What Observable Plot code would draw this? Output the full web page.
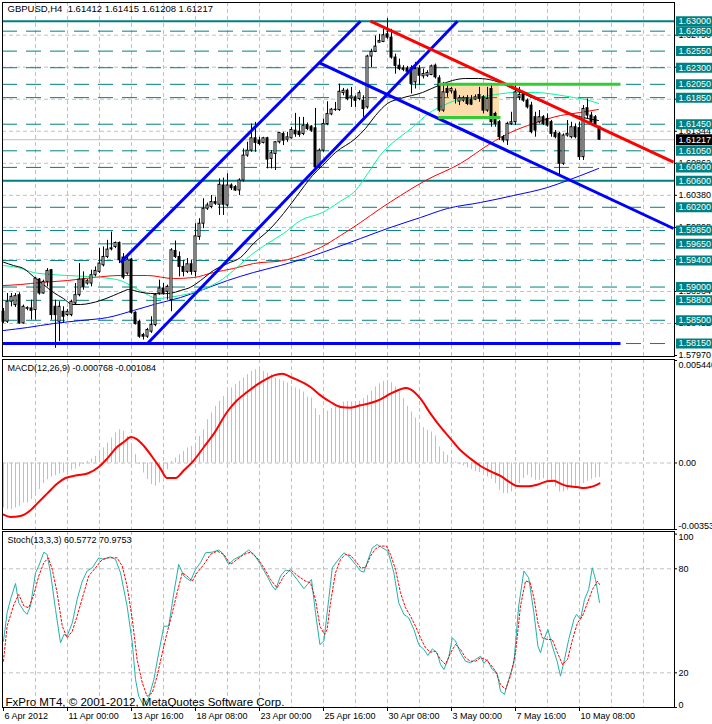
<!DOCTYPE html>
<html><head><meta charset="utf-8">
<script src="https://cdn.jsdelivr.net/npm/d3@7"></script>
<script src="https://cdn.jsdelivr.net/npm/@observablehq/plot@0.6"></script>
<style>
body{margin:0;background:#fff;}
#chart{position:relative;width:712px;height:724px;overflow:hidden;background:#fff;}
#chart svg{position:absolute;left:0;}
</style></head><body><div id="chart"></div>
<script>
// ---------- DATA ----------
const symbol = "GBPUSD", timeframe = "H4";
// H4 candles [open, high, low, close], oldest first
const candles = [
[1.58628,1.58678,1.58453,1.58478],[1.58478,1.58903,1.58453,1.58778],[1.58778,1.58903,1.58703,1.58853],[1.58728,1.58903,1.58693,1.58863],[1.58878,1.58913,1.58443,1.58453],
[1.58453,1.58728,1.58443,1.58703],[1.58673,1.58703,1.58643,1.58683],[1.58678,1.58803,1.58503,1.58643],[1.58653,1.59143,1.58503,1.59128],[1.59113,1.59128,1.58878,1.58903],
[1.58903,1.59103,1.58893,1.59078],[1.59078,1.59278,1.59003,1.59243],[1.59253,1.59263,1.58503,1.58578],[1.58703,1.58803,1.58078,1.58578],[1.58478,1.58778,1.58178,1.58703],
[1.58628,1.58703,1.58453,1.58553],[1.58578,1.58663,1.58553,1.58628],[1.58578,1.58803,1.58553,1.58778],[1.58753,1.59053,1.58728,1.58878],[1.58878,1.59353,1.58853,1.59113],
[1.59113,1.59228,1.58953,1.59003],[1.59053,1.59113,1.59028,1.59088],[1.59053,1.59253,1.59003,1.59178],[1.59178,1.59303,1.59153,1.59243],[1.59228,1.59578,1.59203,1.59353],
[1.59328,1.59603,1.59303,1.59453],[1.59453,1.59703,1.59428,1.59563],[1.59568,1.59828,1.59543,1.59583],[1.59603,1.59678,1.59578,1.59663],[1.59663,1.59678,1.59353,1.59403],
[1.59443,1.59503,1.59113,1.59143],[1.59203,1.59453,1.59178,1.59413],[1.59413,1.59428,1.58593,1.58613],[1.58613,1.58628,1.58428,1.58443],[1.58478,1.58503,1.58228,1.58253],
[1.58278,1.58303,1.58203,1.58253],[1.58253,1.58378,1.58228,1.58353],[1.58328,1.58553,1.58303,1.58428],[1.58428,1.58903,1.58403,1.58878],[1.58903,1.59103,1.58878,1.58978],
[1.58978,1.59053,1.58878,1.58903],[1.58928,1.59028,1.58803,1.59003],[1.58803,1.59578,1.58628,1.59553],[1.59543,1.59693,1.59428,1.59453],[1.59453,1.59528,1.59153,1.59303],
[1.59303,1.59403,1.59153,1.59228],[1.59228,1.59428,1.59203,1.59343],[1.59343,1.59403,1.59178,1.59228],[1.59228,1.59953,1.59153,1.59763],[1.59753,1.60028,1.59703,1.59953],
[1.59953,1.60328,1.59878,1.60178],[1.60178,1.60263,1.60153,1.60228],[1.60203,1.60378,1.60178,1.60278],[1.60278,1.60353,1.60228,1.60253],[1.60238,1.60628,1.60078,1.60538],
[1.60528,1.60638,1.60078,1.60238],[1.60228,1.60703,1.60203,1.60528],[1.60528,1.60553,1.60453,1.60488],[1.60503,1.60528,1.60438,1.60453],[1.60453,1.60628,1.60378,1.60603],
[1.60603,1.61078,1.60578,1.60978],[1.60978,1.61178,1.60953,1.61053],[1.61053,1.61453,1.61028,1.61238],[1.61238,1.61478,1.61028,1.61168],[1.61203,1.61253,1.61128,1.61153],
[1.61168,1.61253,1.61153,1.61238],[1.61238,1.61253,1.60778,1.60918],[1.60928,1.61053,1.60778,1.61013],[1.61003,1.61188,1.60753,1.61178],[1.61178,1.61328,1.61153,1.61318],
[1.61303,1.61328,1.61128,1.61203],[1.61218,1.61328,1.61178,1.61253],[1.61238,1.61403,1.61228,1.61363],[1.61353,1.61613,1.61253,1.61298],[1.61338,1.61553,1.61253,1.61288],
[1.61303,1.61553,1.61278,1.61428],[1.61438,1.61468,1.61353,1.61378],[1.61413,1.61428,1.61328,1.61353],[1.61388,1.61688,1.60788,1.60803],[1.60803,1.61078,1.60788,1.61053],
[1.61053,1.61528,1.61028,1.61453],[1.61453,1.61788,1.61428,1.61603],[1.61598,1.61688,1.61578,1.61668],[1.61668,1.61778,1.61643,1.61663],[1.61663,1.62053,1.61643,1.61938],
[1.61918,1.61988,1.61878,1.61953],[1.61953,1.61978,1.61803,1.61828],[1.61838,1.62003,1.61703,1.61868],[1.61853,1.61878,1.61703,1.61803],[1.61828,1.61953,1.61803,1.61918],
[1.61803,1.61878,1.61553,1.61678],[1.61703,1.62488,1.61678,1.62468],[1.62468,1.62578,1.62303,1.62538],[1.62538,1.62778,1.62528,1.62618],[1.62678,1.62803,1.62668,1.62703],
[1.62688,1.62878,1.62678,1.62788],[1.62803,1.63040,1.62728,1.62753],[1.62753,1.62878,1.62428,1.62453],[1.62453,1.62503,1.62203,1.62328],[1.62330,1.62430,1.62255,1.62280],
[1.62290,1.62330,1.62240,1.62270],[1.62290,1.62320,1.62220,1.62240],[1.62290,1.62330,1.61905,1.62055],[1.62080,1.62380,1.61980,1.62280],[1.62280,1.62330,1.62030,1.62180],
[1.62170,1.62280,1.62130,1.62205],[1.62180,1.62255,1.62155,1.62220],[1.62190,1.62340,1.62180,1.62320],[1.62330,1.62355,1.62130,1.62155],[1.62140,1.62180,1.61630,1.61655],
[1.61655,1.62080,1.61630,1.61930],[1.61980,1.62055,1.61855,1.61920],[1.61945,1.62005,1.61905,1.61980],[1.61940,1.61980,1.61755,1.61830],[1.61790,1.61880,1.61730,1.61840],
[1.61805,1.61870,1.61780,1.61840],[1.61840,1.61880,1.61730,1.61755],[1.61820,1.61880,1.61730,1.61745],[1.61820,1.61890,1.61805,1.61855],[1.61890,1.62005,1.61780,1.61830],
[1.61855,1.61880,1.61605,1.61655],[1.61655,1.62005,1.61630,1.61830],[1.61980,1.62030,1.61405,1.61480],[1.61605,1.61630,1.61405,1.61455],[1.61480,1.61505,1.61205,1.61255],
[1.61255,1.61280,1.61170,1.61205],[1.61205,1.61480,1.61130,1.61455],[1.61455,1.61630,1.61430,1.61480],[1.61480,1.62030,1.61430,1.61930],[1.61855,1.62005,1.61805,1.61890],
[1.61890,1.61930,1.61780,1.61805],[1.61805,1.61830,1.61680,1.61705],[1.61730,1.61780,1.61305,1.61330],[1.61555,1.61630,1.61255,1.61355],[1.61480,1.61655,1.61455,1.61555],
[1.61555,1.61580,1.61430,1.61455],[1.61530,1.61605,1.61405,1.61430],[1.61480,1.61505,1.61255,1.61305],[1.61320,1.61355,1.61230,1.61255],[1.61305,1.61330,1.60680,1.60855],
[1.60855,1.61305,1.60830,1.61280],[1.61280,1.61505,1.61255,1.61305],[1.61255,1.61480,1.61230,1.61405],[1.61405,1.61455,1.61230,1.61255],[1.61390,1.61480,1.60905,1.60955],
[1.60955,1.61730,1.60905,1.61680],[1.61690,1.61830,1.61530,1.61580],[1.61580,1.61630,1.61430,1.61480],[1.61555,1.61580,1.61405,1.61420],[1.61412,1.61415,1.61208,1.61217]
];
// moving averages: [bar, price]
const maBlack = [[0,1.59374],[2.5,1.59324],[5,1.59279],[7.5,1.59158],[10,1.59038],[12.5,1.58918],[15,1.58827],[17.25,1.58737],[19.25,1.58737],[21.75,1.58757],[24.25,1.58797],[27.5,1.58873],[30,1.58937],[31.25,1.58963],[34.25,1.58922],[36.75,1.58903],[39.25,1.58898],[41.75,1.58907],[44.25,1.58948],[46.75,1.58997],[49.25,1.59098],[52.5,1.59249],[56,1.59354],[59.25,1.59444],[62.5,1.59655],[66.75,1.59881],[70,1.60107],[73.25,1.60362],[77.25,1.60678],[79.75,1.60829],[83,1.61025],[88,1.61235],[90.5,1.61386],[93,1.61581],[96,1.61762],[99.25,1.61837],[104.75,1.61927],[108.75,1.62033],[112.25,1.62108],[115.5,1.62138],[118.75,1.62138],[122.5,1.62108],[129.25,1.61927],[136.75,1.61732],[143,1.61581],[148.75,1.61506]];
const maGreen = [[0,1.59324],[3.5,1.59294],[7.5,1.59219],[11.75,1.59189],[16,1.59174],[21,1.59158],[24.25,1.59143],[29.25,1.59098],[31.75,1.59023],[35,1.58918],[38.5,1.58827],[41,1.58842],[44.25,1.58873],[47.5,1.58918],[51,1.58993],[54.25,1.59098],[57.5,1.59249],[61.75,1.59475],[66,1.59655],[70,1.59806],[74.25,1.60001],[79.75,1.60122],[83.75,1.60272],[88,1.60453],[91.25,1.60724],[94.75,1.61025],[98,1.61205],[102.25,1.61401],[106.25,1.61611],[110.5,1.61747],[114.75,1.61837],[118.75,1.61852],[123,1.61897],[128,1.61927],[133,1.61927],[138,1.61897],[142.5,1.61852],[145.5,1.61822],[148.75,1.61762]];
const maRed = [[0,1.59023],[4.25,1.59038],[9.25,1.59068],[16,1.59098],[22.5,1.59143],[29.25,1.59174],[36,1.59174],[42.5,1.59128],[47.5,1.59143],[52.5,1.59219],[57.5,1.59279],[62.5,1.59354],[70,1.59399],[74.25,1.59475],[79.25,1.59595],[84.25,1.59775],[89.25,1.59971],[94.25,1.60182],[99.25,1.60377],[105.5,1.60603],[114.25,1.60859],[121.75,1.6116],[126.75,1.61326],[132.5,1.61461],[139.25,1.61581],[144.25,1.61627],[148.75,1.61672]];
const maBlue = [[0,1.58346],[6,1.58391],[12.5,1.58451],[19.25,1.58496],[26,1.58541],[32.5,1.58647],[38.5,1.58752],[44.25,1.58842],[49.25,1.58948],[56,1.59098],[62.5,1.59219],[69.25,1.59324],[76,1.59444],[82.5,1.5958],[89.25,1.5973],[96,1.59881],[104.25,1.60046],[111,1.60182],[119.25,1.60272],[127.5,1.60377],[136,1.60498],[141,1.60603],[148.75,1.60784]];
// drawn objects: [bar1, price1, bar2, price2]
const blueLines = [[-0.25,1.5815,154.25,1.5815],[29.25,1.5937,89.25,1.6300],[36,1.5815,113.5,1.6300],[78.75,1.62379,167.5,1.59881]];
const redLines = [[91.75,1.6300,167.5,1.60879]];
const greenLines = [[108.75,1.6205,154.25,1.6205],[108.75,1.6155,124.25,1.6155]];
const boxes = [[108.75,1.6155,124,1.6205]];
// horizontal levels
const solidLevels = [1.6300, 1.6060];
const dashedLevels = [1.6285,1.6255,1.6230,1.6205,1.6185,1.6145,1.6105,1.6080,1.6020,1.5985,1.5965,1.5940,1.5900,1.5880,1.5850,1.5815];
const priceGrid = [1.58452,1.58934,1.59416,1.59898,1.60380,1.60862,1.61344,1.61826,1.62308,1.62790];
const priceAxis = [1.57970,1.58452,1.58934,1.59416,1.59898,1.60380,1.60862,1.61344,1.61826,1.62308,1.62790];
const gridBars = [8,16,24,32,40,48,56,64,72,80,88,96,104,112,120,128,136,144,152,160];
const timeTicks = [0,16,32,48,64,80,96,112,128,144];
const timeLabels = ["6 Apr 2012","11 Apr 00:00","13 Apr 16:00","18 Apr 08:00","23 Apr 00:00","25 Apr 16:00","30 Apr 08:00","3 May 00:00","7 May 16:00","10 May 08:00"];
// MACD(12,26,9)
const macdParams = [12,26,9];
const macdHist = [
-0.002388,-0.002477,-0.002477,-0.002388,-0.0023,-0.002123,-0.002123,-0.001946,-0.001681,-0.001415,
-0.001097,-0.000885,-0.000743,-0.000672,-0.000584,-0.000531,-0.00046,-0.000389,-0.000318,-0.000212,
-0.000088,0.000088,0.000212,0.000354,0.000531,0.000796,0.001061,0.001327,0.001592,0.001769,
0.001681,0.001415,0.000973,0.000442,-0.000088,-0.000531,-0.000885,-0.00115,-0.001238,-0.001061,
-0.000796,-0.000354,0.000088,0.000265,0.000442,0.000619,0.000796,0.000885,0.001061,0.001415,
0.001769,0.0023,0.002654,0.003007,0.003273,0.003538,0.003803,0.00398,0.004157,0.004334,
0.004511,0.004688,0.004865,0.004953,0.005042,0.004865,0.004776,0.004688,0.004511,0.004423,
0.004334,0.004246,0.004069,0.00398,0.003892,0.003768,0.003503,0.00345,0.002883,0.00253,
0.002707,0.00276,0.002883,0.002972,0.00306,0.003237,0.003273,0.003237,0.003237,0.003273,
0.003414,0.003591,0.003821,0.004033,0.00421,0.004334,0.004387,0.004263,0.004033,0.003768,
0.003414,0.003007,0.002707,0.002388,0.002087,0.001875,0.001734,0.001645,0.001433,0.000849,
0.000584,0.000407,0.00023,0.000053,-0.000088,-0.000159,-0.000265,-0.000354,-0.000442,-0.000513,
-0.000619,-0.000743,-0.000867,-0.001097,-0.001451,-0.001627,-0.001627,-0.001539,-0.001362,-0.001097,
-0.000831,-0.000655,-0.000796,-0.00092,-0.00092,-0.000831,-0.000867,-0.001008,-0.001274,-0.001539,
-0.001539,-0.001451,-0.001362,-0.001274,-0.001185,-0.001097,-0.000973,-0.000867,-0.000796,-0.000768];
const macdSignal = [[0,-0.00274],[1.75,-0.002866],[4.25,-0.002813],[6.75,-0.002512],[8.4,-0.002158],[10.9,-0.001627],[13.4,-0.001097],[15.5,-0.000796],[18.4,-0.000655],[21.3,-0.000531],[23.8,-0.000212],[25.9,0.00023],[28.4,0.000849],[30.1,0.001114],[31.9,0.00138],[33.4,0.001256],[35.1,0.000902],[37.2,0.000318],[39.25,-0.000301],[40.9,-0.000796],[43,-0.000796],[45.1,-0.000389],[47.6,0.000142],[50.1,0.000849],[52.6,0.001557],[55.9,0.002707],[58.4,0.003326],[60.9,0.003768],[63.4,0.004157],[65.9,0.004476],[67.6,0.004652],[69.7,0.004741],[71.75,0.004564],[74.25,0.004334],[76.75,0.004033],[79.25,0.003591],[81.75,0.003237],[84.25,0.002972],[86.75,0.002937],[89.25,0.00306],[91.75,0.003184],[94.25,0.003379],[96.75,0.00368],[99.25,0.00391],[100.5,0.00398],[101.75,0.00391],[104.25,0.003414],[106.75,0.002618],[109.25,0.001911],[111.75,0.001291],[114.25,0.000672],[116.75,0.00023],[119.25,-0.000159],[121.75,-0.000442],[124.25,-0.00069],[126.75,-0.001044],[128.4,-0.001221],[130.9,-0.001238],[133.4,-0.00115],[135.9,-0.000973],[137.6,-0.000938],[139.25,-0.001097],[140.9,-0.001221],[143.4,-0.001274],[145.1,-0.001327],[146.75,-0.001274],[148,-0.001185],[149,-0.001084]];
const macdAxis = [0.00544, 0, -0.00353];
const macdAxisText = ["0.005440", "0.00", "-0.00353"];
// Stochastic(13,3,3)
const stochParams = [13,3,3];
const stochMain = [[0,38.3],[0.9,54.6],[1.75,62.3],[3,71.5],[3.8,60.4],[5.1,55.6],[5.9,53.7],[6.75,58.5],[8,77.7],[8.8,81.5],[10.1,89.6],[10.9,88.3],[11.75,77.7],[13,56.5],[14.25,37.3],[15.1,42.1],[15.9,41.2],[17.2,48.8],[18.4,62.3],[19.7,72.9],[20.9,78.7],[22.2,80.6],[23.8,86.3],[25.1,85.4],[26.75,86.9],[28,85.4],[29.25,77.7],[30.9,58.5],[32.2,37.3],[33,16.2],[33.8,6.5],[35.1,0.8],[36.3,5.6],[37.6,16.2],[38.8,31.5],[40.1,46.9],[41.3,46.9],[42.6,66.2],[43.8,82.5],[45.1,75.8],[46.75,72.9],[48,79.6],[49.25,83.5],[50.5,89.2],[52.2,89.6],[53.8,90.8],[54.7,89.2],[56.3,82.5],[57.6,85.4],[59.25,87.3],[61.3,90.8],[62.6,88.3],[64.25,82.5],[65.9,75.8],[67.2,70],[68,67.7],[69.25,75.8],[70.5,79.2],[71.75,78.7],[73.4,73.8],[75.1,68.5],[76,71],[77,73.8],[78,54.6],[79.1,36.3],[80.1,38.3],[81.3,62.3],[82.2,80.6],[83.4,84.4],[85.1,89.2],[86.3,87.3],[88,82.5],[89.25,78.7],[90.1,78.1],[90.9,83.5],[92.2,92.1],[93.4,94],[94.7,92.1],[96.1,90.2],[97.6,77.7],[98.8,60.4],[100.1,53.7],[101.3,51.7],[102.6,45],[103.8,36.3],[105.1,33.5],[106.1,30],[107.2,33.8],[108.4,31.5],[109.25,24.8],[110.1,21.9],[111.3,28.7],[112.2,40.2],[113,38.3],[114.25,31.5],[115.5,26.7],[116.75,25.8],[118,27.7],[119.25,29.6],[120.1,25.4],[120.9,27.7],[122.2,21.9],[123.4,20],[124.25,9.4],[125.25,7.5],[126.3,16.2],[127.6,25.8],[128.8,58.5],[130.1,78.7],[131.3,74.8],[132.6,54.6],[133.6,35.4],[134.25,31.5],[135.1,39.2],[136.1,45],[137.2,35.4],[138.4,26.7],[139.25,18.1],[140.25,27.7],[141.3,39.2],[142.6,50.8],[143.25,53.7],[144.25,50.8],[145.25,62.3],[146.3,68.1],[147.2,80.6],[148,73.8],[149,60.5772]];
const stochSignal = [[0,26.7],[0.9,46.9],[2.6,59.4],[3.8,65.2],[5.1,58.5],[6.3,57.5],[7.6,65.2],[8.8,75.8],[10.1,83.5],[11.2,86.3],[12.2,79.6],[13.4,66.2],[14.7,46.9],[15.9,40.2],[17.2,44],[18.4,52.7],[20.1,66.2],[21.3,75.8],[23,80.6],[24.7,85.4],[25.9,86.3],[28.4,86.3],[29.7,81.5],[30.9,70],[32.2,50.8],[33.4,27.7],[34.7,14.2],[35.9,6.5],[37.2,8.5],[38.4,18.1],[39.7,31.5],[40.9,43.1],[42.2,54.6],[43.4,66.2],[44.7,77.7],[45.9,75.8],[47.2,72.9],[48.4,77.7],[50.1,82.5],[51.75,88.3],[53.4,90.2],[55.1,88.3],[56.75,82.5],[58.4,85.4],[60.1,88.3],[61.75,89.6],[63.4,86.3],[65.1,80.6],[66.75,73.8],[68.4,69],[70.1,75.8],[71.75,79.6],[73.4,76.2],[75.5,72.9],[76.75,71.9],[78,62.3],[79.1,46.9],[80.25,42.1],[80.9,45],[81.75,60.4],[83,77.7],[84.25,85.4],[85.5,88.3],[86.75,87.7],[88,84.4],[89.25,80.6],[90.5,80.6],[91.75,87.3],[93,91.5],[94.25,93.1],[95.75,93.1],[96.75,88.3],[98,79.6],[99.25,66.2],[100.5,57.5],[101.75,52.7],[103,46.9],[104.25,40.2],[105.5,34.4],[106.75,31.9],[108,32.5],[109.25,27.7],[110.5,24.8],[111.75,31.5],[113,36.3],[114.25,33.5],[115.5,28.7],[116.75,26.7],[118,26.7],[119.25,28.7],[120.5,27.7],[121.75,24.8],[123,21],[124.25,13.3],[125.5,10.4],[126.75,18.1],[128,31.5],[129.25,58.5],[130.5,72.9],[131.6,72.3],[132.6,63.3],[133.6,48.8],[134.7,40.2],[136,39.2],[137.2,39.2],[138.5,31.5],[139.75,24.8],[141,27.7],[142.25,39.2],[143.5,48.8],[144.75,52.7],[146,60.4],[147.25,68.1],[148.5,72.9],[149,70.9753]];
const stochAxis = [100, 80, 20, 0];
const copyright = "FxPro MT4, \u00A9 2001-2012, MetaQuotes Software Corp.";

// ---------- DRAW ----------
const FONT = "'Liberation Sans', Arial, sans-serif";
const TEAL = "#008080", GRID = "#c0c0c0";
const xDom = [-0.25, 167.75];
const bars = candles.map(([o,h,l,c], i) => ({i, o, h, l, c}));
const upBars = bars.filter(d => d.c >= d.o), downBars = bars.filter(d => d.c < d.o);
const last = bars[bars.length - 1];
const fx = d => d[0], fy = d => d[1];
const baseStyle = {fontFamily: FONT, fontSize: "9px", background: "transparent", overflow: "visible"};
const lab1 = xDom[1] + 0.5, lab2 = xDom[1] + 10;
const link = (data, stroke, w) => Plot.link(data, {x1: d => d[0], y1: d => d[1], x2: d => d[2], y2: d => d[3], stroke, strokeWidth: w});
const f5 = d => d.toFixed(5);

const title = `${symbol},${timeframe}  ${f5(last.o)} ${f5(last.h)} ${f5(last.l)} ${f5(last.c)}`;

const main = Plot.plot({
  width: 712, height: 359, marginLeft: 2, marginRight: 38, marginTop: 2, marginBottom: 3,
  x: {domain: xDom, axis: null},
  y: {domain: [1.5797, 1.632814], insetBottom: 1, axis: null},
  style: baseStyle,
  marks: [
    Plot.ruleX(gridBars, {stroke: GRID, strokeDasharray: "4,3"}),
    Plot.ruleY(priceGrid, {stroke: GRID, strokeDasharray: "4,3"}),
    Plot.rect(boxes, {x1: d => d[0], y1: d => d[1], x2: d => d[2], y2: d => d[3], fill: "#fcdcaa"}),
    Plot.ruleY(dashedLevels, {stroke: TEAL, strokeDasharray: "15,9"}),
    Plot.ruleY(solidLevels, {stroke: TEAL, strokeWidth: 2}),
    Plot.ruleY([last.c], {stroke: GRID}),
    Plot.line(maBlue, {x: fx, y: fy, stroke: "#0000ff", strokeWidth: 1, curve: "monotone-x"}),
    Plot.line(maRed, {x: fx, y: fy, stroke: "#ff0000", strokeWidth: 1, curve: "monotone-x"}),
    Plot.line(maGreen, {x: fx, y: fy, stroke: "#00fa9a", strokeWidth: 1, curve: "monotone-x"}),
    Plot.line(maBlack, {x: fx, y: fy, stroke: "#000000", strokeWidth: 1, curve: "monotone-x"}),
    Plot.ruleX(bars, {x: "i", y1: "l", y2: "h", stroke: "black"}),
    Plot.rect(downBars, {x1: d => d.i - 0.25, x2: d => d.i + 0.25, y1: "o", y2: "c", fill: "black", stroke: "black"}),
    Plot.rect(upBars, {x1: d => d.i - 0.25, x2: d => d.i + 0.25, y1: "o", y2: "c", fill: "white", stroke: "black"}),
    link(blueLines, "#0000ff", 3),
    link(redLines, "#ff0000", 3),
    link(greenLines, "#32cd32", 3),
    Plot.ruleY(priceAxis, {x1: xDom[1], x2: xDom[1] + 0.75, stroke: "black"}),
    Plot.text(priceAxis, {y: d => d, text: f5, frameAnchor: "right", dx: 4, textAnchor: "start", fill: "black"}),
    Plot.ruleY(solidLevels.concat(dashedLevels), {x1: lab1, x2: lab2, stroke: TEAL, strokeWidth: 10}),
    Plot.text(solidLevels.concat(dashedLevels), {y: d => d, text: f5, frameAnchor: "right", dx: 4, textAnchor: "start", fill: "white"}),
    Plot.ruleY([last.c], {x1: lab1, x2: lab2, stroke: "black", strokeWidth: 11}),
    Plot.text([last.c], {y: d => d, text: f5, frameAnchor: "right", dx: 4, textAnchor: "start", fill: "white"}),
    Plot.frame({stroke: "black"}),
    Plot.text([title], {frameAnchor: "top-left", dx: 5, dy: 3, lineAnchor: "top", textAnchor: "start", fontSize: 9.5})
  ]
});

const macdTitle = `MACD(${macdParams.join(",")}) ${macdHist[macdHist.length-1].toFixed(6)} ${macdSignal[macdSignal.length-1][1].toFixed(6)}`;
const macd = Plot.plot({
  width: 712, height: 174, marginLeft: 2, marginRight: 38, marginTop: 2, marginBottom: 2,
  x: {domain: xDom, axis: null},
  y: {domain: [-0.00353, 0.00544], insetTop: 1, axis: null},
  style: baseStyle,
  marks: [
    Plot.ruleX(gridBars, {stroke: GRID, strokeDasharray: "4,3"}),
    Plot.ruleY([0], {stroke: GRID, strokeDasharray: "4,3"}),
    Plot.ruleX(macdHist, {x: (d, i) => i, y1: 0, y2: d => d, stroke: GRID}),
    Plot.line(macdSignal, {x: fx, y: fy, stroke: "#ff0000", strokeWidth: 2, curve: "monotone-x"}),
    Plot.ruleY(macdAxis, {x1: xDom[1], x2: xDom[1] + 0.75, stroke: "black"}),
    Plot.text([0], {y: () => macdAxis[0], text: () => macdAxisText[0], frameAnchor: "right", dx: 4, dy: 1, textAnchor: "start", lineAnchor: "top"}),
    Plot.text([1], {y: () => macdAxis[1], text: () => macdAxisText[1], frameAnchor: "right", dx: 4, textAnchor: "start"}),
    Plot.text([2], {y: () => macdAxis[2], text: () => macdAxisText[2], frameAnchor: "right", dx: 4, dy: -1, textAnchor: "start", lineAnchor: "bottom"}),
    Plot.text([macdTitle], {frameAnchor: "top-left", dx: 5, dy: 5, lineAnchor: "top", textAnchor: "start"}),
    Plot.frame({stroke: "black"})
  ]
});

const stochTitle = `Stoch(${stochParams.join(",")}) ${stochMain[stochMain.length-1][1].toFixed(4)} ${stochSignal[stochSignal.length-1][1].toFixed(4)}`;
const stoch = Plot.plot({
  width: 712, height: 195, marginLeft: 2, marginRight: 38, marginTop: 2, marginBottom: 17,
  x: {domain: xDom, axis: null},
  y: {domain: [0, 100], insetTop: 2.6, axis: null},
  style: baseStyle,
  marks: [
    Plot.ruleX(gridBars, {stroke: GRID, strokeDasharray: "4,3"}),
    Plot.ruleY([20, 80], {stroke: GRID, strokeDasharray: "4,3"}),
    Plot.line(stochMain, {x: fx, y: fy, stroke: "#20b2aa", strokeWidth: 1}),
    Plot.line(stochSignal, {x: fx, y: fy, stroke: "#ff0000", strokeWidth: 1, strokeDasharray: "2,2"}),
    Plot.ruleY(stochAxis, {x1: xDom[1], x2: xDom[1] + 0.75, stroke: "black"}),
    Plot.text([stochAxis[0]], {y: d => d, text: d => String(d), frameAnchor: "right", dx: 4, textAnchor: "start", lineAnchor: "top"}),
    Plot.text([stochAxis[1], stochAxis[2]], {y: d => d, text: d => String(d), frameAnchor: "right", dx: 4, textAnchor: "start"}),
    Plot.text([stochAxis[3]], {y: d => d, text: d => String(d), frameAnchor: "right", dx: 4, textAnchor: "start", lineAnchor: "bottom"}),
    Plot.text([stochTitle], {frameAnchor: "top-left", dx: 5, dy: 5, lineAnchor: "top", textAnchor: "start"}),
    Plot.text([copyright], {frameAnchor: "bottom-left", dx: 3, dy: -2, lineAnchor: "bottom", textAnchor: "start", fontSize: 11.5}),
    Plot.ruleX(timeTicks, {x: d => d, y1: 0, y2: -2.3, stroke: "black"}),
    Plot.text(timeTicks, {x: d => d, text: (d, k) => timeLabels[k], frameAnchor: "bottom", dy: 5, dx: 1, lineAnchor: "top", textAnchor: "start"}),
    Plot.frame({stroke: "black"})
  ]
});

const host = document.getElementById("chart");
main.style.top = "0px"; macd.style.top = "357px"; stoch.style.top = "529px";
host.append(main, macd, stoch);
</script></body></html>
